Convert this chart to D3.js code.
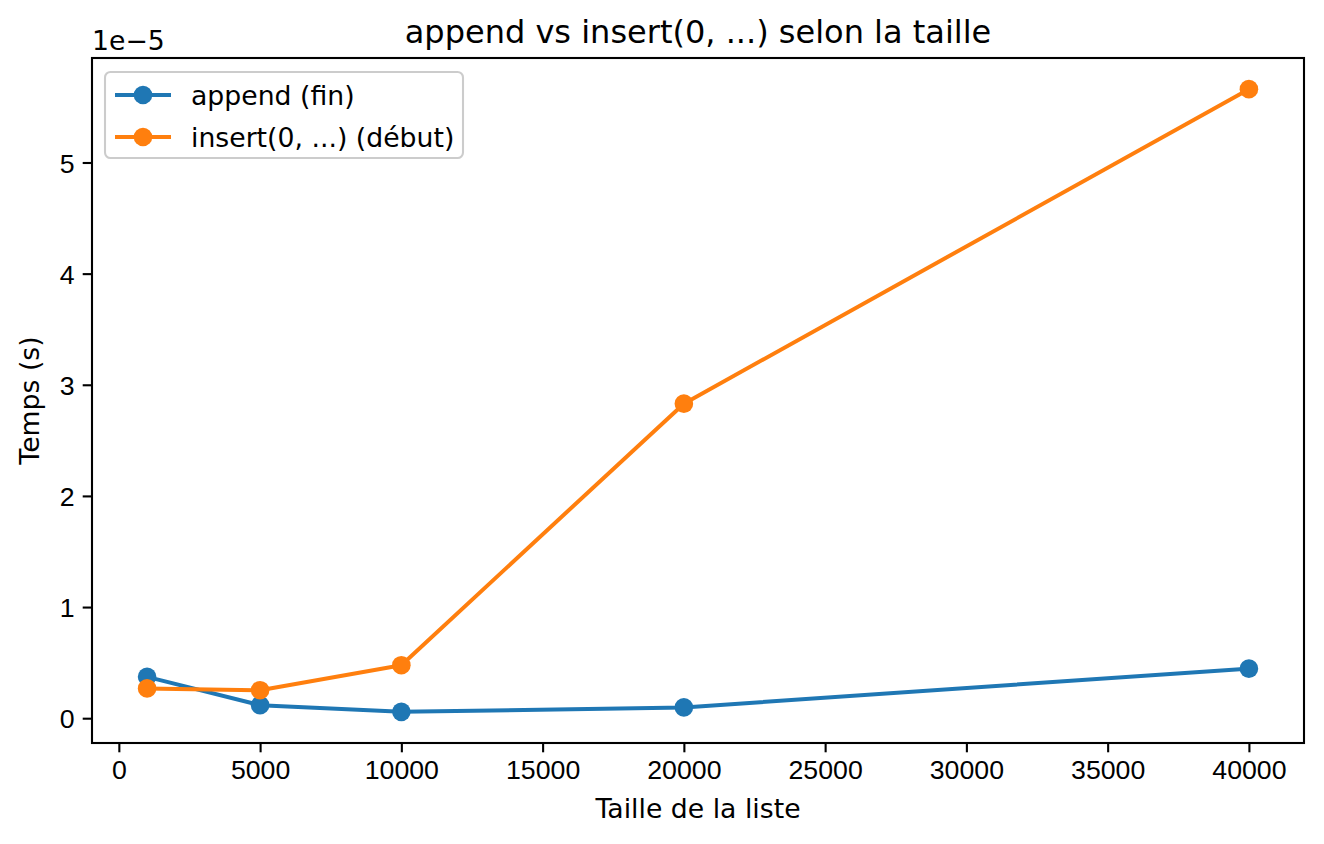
<!DOCTYPE html>
<html lang="fr">
<head>
    <meta charset="UTF-8">
    <title>append vs insert(0, ...) selon la taille</title>
    <script src="https://d3js.org/d3.v7.min.js"></script>
    <style>
        body { margin: 0; background: #fff; }
        svg { display: block; font-family: "DejaVu Sans", sans-serif; }
        .tick text { font-size: 26.7px; fill: #000; }
    </style>
</head>
<body>
    <svg id="chart" width="1324" height="844"></svg>

    <script>
        // tailles de liste et temps mesurés (secondes)
        const sizes = [1000, 5000, 10000, 20000, 40000];
        const appendTimes = [3.72e-6, 1.17e-6, 0.57e-6, 0.97e-6, 4.46e-6];
        const insertTimes = [2.68e-6, 2.52e-6, 4.77e-6, 28.3e-6, 56.6e-6];
        const xTicks = [0, 5000, 10000, 15000, 20000, 25000, 30000, 35000, 40000];
        const yTicks = [0, 1e-5, 2e-5, 3e-5, 4e-5, 5e-5];

        const series = [
            { name: "append (fin)", values: appendTimes, color: "#1f77b4" },
            { name: "insert(0, ...) (début)", values: insertTimes, color: "#ff7f0e" }
        ];

        const svg = d3.select("#chart");
        const mLeft = 92, mRight = 1304, mTop = 58, mBottom = 743;

        // marges de 5% comme matplotlib
        const xPad = (d3.max(sizes) - d3.min(sizes)) * 0.05;
        const allY = appendTimes.concat(insertTimes);
        const yPad = (d3.max(allY) - d3.min(allY)) * 0.05;

        const x = d3.scaleLinear()
            .domain([d3.min(sizes) - xPad, d3.max(sizes) + xPad])
            .range([mLeft, mRight]);
        const y = d3.scaleLinear()
            .domain([d3.min(allY) - yPad, d3.max(allY) + yPad])
            .range([mBottom, mTop]);

        const xAxis = svg.append("g")
            .attr("transform", `translate(0,${mBottom})`)
            .call(d3.axisBottom(x).tickValues(xTicks).tickFormat(d3.format("d"))
                .tickSize(9.3).tickPadding(8));
        const yAxis = svg.append("g")
            .attr("transform", `translate(${mLeft},0)`)
            .call(d3.axisLeft(y).tickValues(yTicks).tickFormat(d => Math.round(d / 1e-5))
                .tickSize(9.3).tickPadding(8));

        [xAxis, yAxis].forEach(g => {
            g.select(".domain").remove();
            g.selectAll(".tick line").attr("stroke", "#000").attr("stroke-width", 2.1);
        });
        yAxis.selectAll(".tick text").attr("dy", "0.36em");

        // cadre
        svg.append("rect")
            .attr("x", mLeft).attr("y", mTop)
            .attr("width", mRight - mLeft).attr("height", mBottom - mTop)
            .attr("fill", "none").attr("stroke", "#000").attr("stroke-width", 2.1);

        const line = d3.line()
            .x((d, i) => x(sizes[i]))
            .y(d => y(d));

        series.forEach(s => {
            svg.append("path")
                .datum(s.values)
                .attr("d", line)
                .attr("fill", "none")
                .attr("stroke", s.color)
                .attr("stroke-width", 4)
                .attr("stroke-linejoin", "round")
                .attr("stroke-linecap", "square");
            svg.append("g")
                .selectAll("circle")
                .data(s.values)
                .enter()
                .append("circle")
                .attr("cx", (d, i) => x(sizes[i]))
                .attr("cy", d => y(d))
                .attr("r", 9.3)
                .attr("fill", s.color);
        });

        // textes
        svg.append("text")
            .attr("x", (mLeft + mRight) / 2).attr("y", 43)
            .attr("text-anchor", "middle")
            .attr("font-size", 32)
            .text("append vs insert(0, ...) selon la taille");

        svg.append("text")
            .attr("x", (mLeft + mRight) / 2).attr("y", 818)
            .attr("text-anchor", "middle")
            .attr("font-size", 26.7)
            .text("Taille de la liste");

        svg.append("text")
            .attr("transform", `translate(39,${(mTop + mBottom) / 2}) rotate(-90)`)
            .attr("text-anchor", "middle")
            .attr("font-size", 26.7)
            .text("Temps (s)");

        svg.append("text")
            .attr("x", mLeft).attr("y", 50)
            .attr("font-size", 26.7)
            .text("1e\u22125");

        // légende
        const legend = svg.append("g").attr("transform", "translate(105,72)");
        legend.append("rect")
            .attr("width", 358).attr("height", 86)
            .attr("rx", 5.5)
            .attr("fill", "#fff").attr("fill-opacity", 0.8)
            .attr("stroke", "#cccccc").attr("stroke-width", 2.1);

        series.forEach((s, i) => {
            const row = legend.append("g").attr("transform", `translate(0,${23 + i * 42})`);
            row.append("line")
                .attr("x1", 10).attr("x2", 66)
                .attr("stroke", s.color).attr("stroke-width", 4);
            row.append("circle")
                .attr("cx", 38).attr("r", 9.3).attr("fill", s.color);
            row.append("text")
                .attr("x", 86).attr("dy", "0.36em")
                .attr("font-size", 26.7)
                .text(s.name);
        });
    </script>
</body>
</html>
